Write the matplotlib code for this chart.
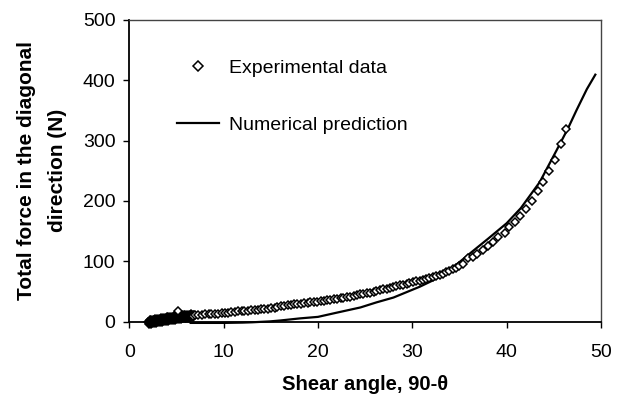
import matplotlib
matplotlib.use("Agg")
import matplotlib.pyplot as plt

plt.rcParams['font.family'] = ['Liberation Sans', 'DejaVu Sans']

# Experimental data (shear angle, total force N)
exp_x_low = [2.0, 2.1, 2.2, 2.3, 2.4, 2.5, 2.6, 2.7, 2.8, 2.9,
             3.0, 3.1, 3.2, 3.3, 3.4, 3.5, 3.6, 3.7, 3.8, 3.9,
             4.0, 4.1, 4.2, 4.3, 4.4, 4.5, 4.6, 4.7, 4.8, 4.9,
             5.0, 5.1, 5.3, 5.4, 5.5, 5.6, 5.7, 5.8, 5.9,
             6.0, 6.1, 6.2, 6.3, 6.4, 6.5, 6.6, 6.7]
exp_y_low = [0.0, -1.0, 0.5, 1.0, -0.5, 1.5, 2.0, 0.8, 2.5, 1.8,
             3.0, 2.2, 3.5, 2.8, 4.0, 3.2, 4.5, 3.8, 5.0, 4.2,
             5.5, 4.8, 6.0, 5.2, 6.2, 5.8, 6.8, 6.0, 7.2, 6.5,
             7.5, 6.8, 8.0, 7.2, 8.5, 7.8, 9.0, 8.2, 9.2,
             8.6, 9.8, 9.0, 10.2, 9.5, 10.5, 9.8, 10.8]

# extra overlapping readings in the dense start region
exp_x_low2 = [2.05, 2.15, 2.25, 2.35, 2.45, 2.55, 2.65, 2.75, 2.85, 2.95,
              3.05, 3.15, 3.25, 3.35, 3.45, 3.55, 3.65, 3.75, 3.85, 3.95,
              4.05, 4.15, 4.25, 4.35, 4.45, 4.55, 4.65, 4.75, 4.85, 4.95,
              5.05, 5.15, 5.25, 5.35, 5.45, 5.55, 5.65, 5.75, 5.85, 5.95,
              6.05, 6.15, 6.25, 6.35, 6.45, 6.55, 6.75, 6.85]
exp_y_low2 = [-3.5, 2.5, -3.0, 3.0, -2.5, 3.5, -2.0, 4.0, -1.5, 4.5,
              -1.0, 5.0, -0.5, 5.5, 0.0, 6.0, 0.5, 6.5, 1.0, 7.0,
              1.5, 7.5, 2.0, 8.0, 2.5, 8.5, 3.0, 9.0, 3.5, 9.5,
              4.0, 10.0, 4.5, 10.5, 5.0, 10.8, 5.4, 11.0, 5.8, 11.3,
              6.2, 11.6, 6.5, 11.8, 6.8, 12.0, 7.2, 11.0]

# single outlying reading
exp_x_out = [5.2]
exp_y_out = [17.8]

exp_x_mid = [6.7, 7.0, 7.3, 7.7, 8.0, 8.4, 8.7, 9.1, 9.4, 9.8, 10.1,
             10.5, 10.8, 11.2, 11.5, 11.9, 12.2, 12.6, 12.9, 13.3, 13.6,
             14.0, 14.3, 14.7, 15.0, 15.4, 15.7, 16.1, 16.4, 16.8, 17.1,
             17.5, 17.8, 18.2, 18.5, 18.9, 19.2, 19.6, 19.9, 20.3, 20.6,
             21.0, 21.3, 21.7, 22.0, 22.4, 22.7, 23.1, 23.4, 23.8, 24.1,
             24.5, 24.8, 25.2, 25.5, 25.9, 26.2, 26.6, 26.9, 27.3, 27.6,
             28.0, 28.3, 28.7, 29.0, 29.4, 29.7, 30.1, 30.4, 30.8, 31.1,
             31.5, 31.8, 32.2, 32.5, 32.9, 33.2, 33.6, 33.9, 34.3, 34.6,
             35.0, 35.4]
exp_y_mid = [10.0, 11, 10.5, 11.8, 12, 12.5, 12.2, 13.4, 13.1, 14.2, 14.6,
             14.9, 15.8, 16.0, 16.9, 17.2, 17.6, 18.5, 18.6, 19.5, 19.9,
             20.6, 21.2, 21.8, 22.9, 23.4, 24.1, 25.3, 25.6, 27.0, 27.4,
             28.6, 29.0, 29.7, 30.5, 31.2, 31.8, 32.7, 33.3, 34.1, 34.5,
             35.6, 36.0, 37.1, 37.8, 38.9, 39.5, 40.8, 41.6, 43.0, 43.8,
             45.2, 46.0, 47.5, 48.3, 49.9, 51.0, 52.3, 53.5, 54.8, 56.0,
             57.5, 58.4, 60.0, 61.2, 62.6, 63.9, 65.5, 66.6, 68.2, 69.5,
             71.2, 72.6, 74.5, 76.0, 78.0, 79.6, 82.0, 84.0, 86.5, 88.8,
             92.0, 95.5]

exp_x_high = [35.9, 36.4, 36.9, 37.5, 38.0, 38.6, 39.1, 39.8, 40.3, 40.9,
              41.4, 42.0, 42.7, 43.3, 43.8, 44.5, 45.1, 45.75, 46.3]
exp_y_high = [105, 107.8, 112.2, 118.8, 125.4, 132.5, 139.7, 147.4, 157.3, 165.5,
              174.9, 186.5, 200, 216, 231.4, 249.6, 267, 294.9, 319.6]

# Numerical prediction
num_x = [6.5, 8, 10, 12, 13, 14.9, 16, 18.1, 20, 22, 24.5, 26.2, 28, 30.8,
         32, 33.5, 35.1, 36.5, 38, 40, 41.5, 43.5, 45.3, 46.5, 47.4, 48.5, 49.4]
num_y = [-2, -2, -2, -1.5, -1, 0.5, 2, 5.5, 8, 15, 23.6, 32, 40, 58,
         67, 80, 100, 118, 137, 163, 188, 231, 284, 320, 350, 385, 409]

x_ticks = [0, 10, 20, 30, 40, 50]
y_ticks = [0, 100, 200, 300, 400, 500]

fig = plt.figure(figsize=(6.38, 3.94), dpi=100)
ax = fig.add_axes([0.2027, 0.1835, 0.7393, 0.7665])

mk = dict(linestyle='none', marker='D', markersize=4.2, markeredgecolor='black',
          markeredgewidth=1.1, zorder=3, clip_on=False)

ax.plot(num_x, num_y, color='black', linewidth=1.6, label='Numerical prediction',
        zorder=2, clip_on=False)
# dense start region: heavily overlapping diamonds render as a solid band
ax.plot(exp_x_low + exp_x_low2, exp_y_low + exp_y_low2, markerfacecolor='black', **mk)
ax.plot(exp_x_out + exp_x_mid + exp_x_high, exp_y_out + exp_y_mid + exp_y_high,
        markerfacecolor='white', label='Experimental data', **mk)

ax.set_xlim(0, 50)
ax.set_ylim(0, 500)
ax.set_xticks(x_ticks)
ax.set_yticks(y_ticks)
ax.tick_params(direction='out', length=4.5, width=1, labelsize=14, colors='black')
ax.tick_params(axis='x', pad=11.5)
ax.tick_params(axis='y', pad=5.5)

for s in ['left', 'bottom']:
    ax.spines[s].set_linewidth(1.3)
    ax.spines[s].set_color('black')
for s in ['top', 'right']:
    ax.spines[s].set_linewidth(1.0)
    ax.spines[s].set_color('#444444')

ax.set_xlabel('Shear angle, 90-θ', fontsize=14.6, fontweight='bold', labelpad=10)
ax.set_ylabel('Total force in the diagonal\ndirection (N)', fontsize=15,
              fontweight='bold', labelpad=11, linespacing=1.8)

handles, labels = ax.get_legend_handles_labels()
ax.legend(handles[::-1], labels[::-1], loc='upper left',
          bbox_to_anchor=(177 / 638, 1 - 59 / 394), bbox_transform=fig.transFigure,
          frameon=False, fontsize=14, handlelength=2.15, handletextpad=0.5,
          labelspacing=2.05, markerscale=1.15, borderpad=0, borderaxespad=0)

fig.savefig('out.png', dpi=100)
